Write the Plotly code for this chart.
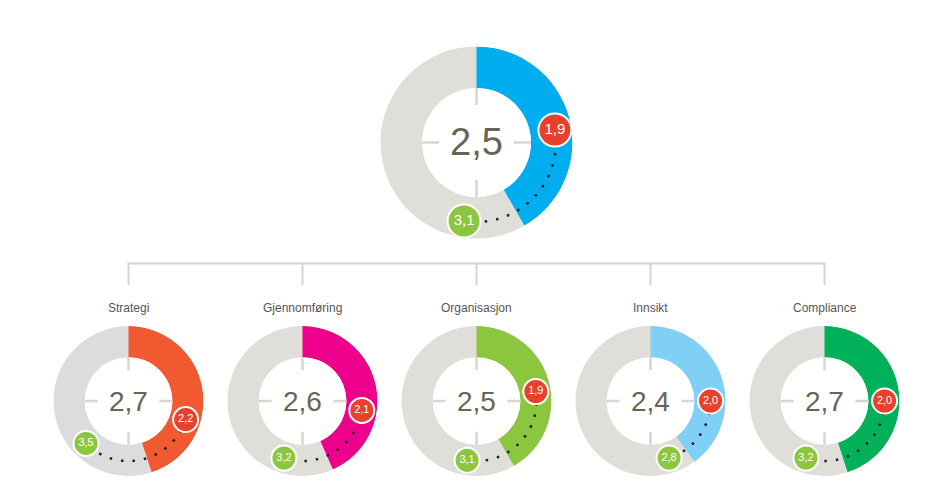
import numpy as np
import plotly.graph_objects as go

# page body has an 8px margin, so the figure sits at (8, 8) in the window
PAD = 8
W, H = 927 - 2 * PAD, 491 - 2 * PAD

# data
total_value = 2.5
total_low = 1.9
total_high = 3.1

categories = ["Strategi", "Gjennomføring", "Organisasjon", "Innsikt", "Compliance"]
values = [2.7, 2.6, 2.5, 2.4, 2.7]
low_values = [2.2, 2.1, 1.9, 2.0, 2.0]
high_values = [3.5, 3.2, 3.1, 2.8, 3.2]

total_color = "#00aeef"
colors = ["#f15a31", "#ec008c", "#8cc63f", "#80cff4", "#00b15a"]
ring_grays = ["#dcdcdc", "#e0ded8", "#e0ded8", "#e0ded8", "#e0ded8"]

RED = "#e8412b"
GREEN = "#8cc63f"
TEXT = "#67645a"


def fmt(v):
    return f"{v:.1f}".replace(".", ",")


def arc_deg(v):
    # ring scale 0..6
    return v / 6 * 360


def mark_deg(v):
    # marker scale 1..5
    return (v - 1) / 4 * 360


# window pixel -> paper coords
def px(x):
    return (x - PAD) / W


def py(y):
    return 1 - (y - PAD) / H


fig = go.Figure()
shapes = []
annotations = []

donuts = [dict(cx=476.5, cy=142.5, R=96, hole=0.568, v=total_value, lo=total_low,
               hi=total_high, color=total_color, gray="#e0ded8", big=True, name=None)]
bx = [128.5, 302.5, 476.5, 650.5, 824.5]
for i, c in enumerate(categories):
    donuts.append(dict(cx=bx[i], cy=401, R=75, hole=0.585, v=values[i], lo=low_values[i],
                       hi=high_values[i], color=colors[i], gray=ring_grays[i], big=False, name=c))

for k, d in enumerate(donuts):
    sub = "polar" if k == 0 else f"polar{k + 1}"
    cx, cy, R = d["cx"], d["cy"], d["R"]
    fig.update_layout({sub: dict(
        domain=dict(x=[px(cx - R), px(cx + R)], y=[py(cy + R), py(cy - R)]),
        hole=d["hole"],
        bgcolor=d["gray"],
        radialaxis=dict(range=[0, 1], visible=False, showgrid=False),
        angularaxis=dict(direction="clockwise", rotation=90, visible=False,
                         showgrid=False, showline=False, showticklabels=False, ticks=""),
    )})

    a = arc_deg(d["v"])
    fig.add_trace(go.Barpolar(r=[1], theta=[a / 2], width=[a], base=0,
                              marker=dict(color=d["color"], line=dict(width=0)),
                              subplot=sub, hoverinfo="skip"))

    rmid = 0.6 if d["big"] else 0.52
    t0, t1 = mark_deg(d["lo"]), mark_deg(d["hi"])
    th = np.linspace(t0, t1, 120)
    fig.add_trace(go.Scatterpolar(r=[rmid] * len(th), theta=th, mode="lines",
                                  line=dict(color="#222222", width=2.5, dash="2.5px,9px"),
                                  subplot=sub, hoverinfo="skip"))

    ms = 33 if d["big"] else 25
    fs = 15 if d["big"] else 11
    fig.add_trace(go.Scatterpolar(
        r=[rmid, rmid], theta=[t0, t1], mode="markers+text",
        text=[fmt(d["lo"]), fmt(d["hi"])], textposition="middle center",
        textfont=dict(color="white", size=fs, family="Liberation Sans, Arial"),
        marker=dict(size=ms, color=[RED, GREEN], line=dict(color="white", width=2)),
        cliponaxis=False, subplot=sub, hoverinfo="skip"))

    # crosshair inside the hole
    rin = R * d["hole"]
    L = 17 if d["big"] else 13
    for dx, dy in [(1, 0), (-1, 0), (0, 1), (0, -1)]:
        shapes.append(dict(type="line", xref="paper", yref="paper",
                           x0=px(cx + dx * rin), y0=py(cy + dy * rin),
                           x1=px(cx + dx * (rin - L)), y1=py(cy + dy * (rin - L)),
                           line=dict(color="#d8d6cf", width=2.5), layer="above"))

    annotations.append(dict(x=px(cx), y=py(cy), xref="paper", yref="paper",
                            text=fmt(d["v"]), showarrow=False,
                            font=dict(size=38 if d["big"] else 28, color=TEXT,
                                      family="Liberation Sans, Arial"),
                            xanchor="center", yanchor="middle"))
    if d["name"]:
        annotations.append(dict(x=px(cx), y=py(308), xref="paper", yref="paper",
                                text=d["name"], showarrow=False,
                                font=dict(size=12, color="#555555",
                                          family="Liberation Sans, Arial"),
                                xanchor="center", yanchor="middle"))

# tree lines
tree = dict(color="#d4d4d4", width=2)
shapes.append(dict(type="line", xref="paper", yref="paper", x0=px(bx[0] - 1), x1=px(bx[-1] + 1),
                   y0=py(263.5), y1=py(263.5), line=tree))
for x in bx:
    shapes.append(dict(type="line", xref="paper", yref="paper", x0=px(x), x1=px(x),
                       y0=py(263.5), y1=py(285), line=tree))

fig.update_layout(width=W, height=H, margin=dict(l=0, r=0, t=0, b=0),
                  paper_bgcolor="white", plot_bgcolor="white", showlegend=False,
                  shapes=shapes, annotations=annotations)

fig.write_html("out.html")
